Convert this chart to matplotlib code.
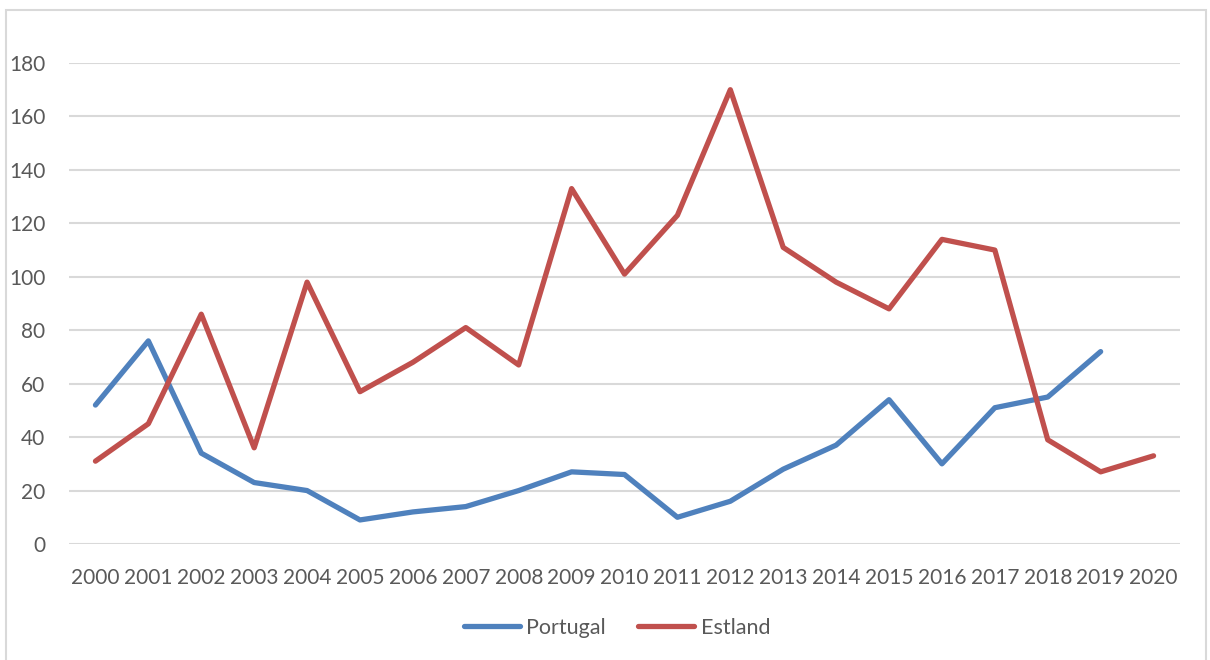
import matplotlib.pyplot as plt
from matplotlib.patches import Rectangle

YEARS = [str(y) for y in range(2000, 2021)]

PORTUGAL = [52, 76, 34, 23, 20, 9, 12, 14, 20, 27, 26, 10, 16, 28, 37, 54, 30, 51, 55, 72]
ESTLAND = [31, 45, 86, 36, 98, 57, 68, 81, 67, 133, 101, 123, 170, 111, 98, 88, 114, 110, 39, 27, 33]

BLUE = "#4F81BD"
RED = "#C0504D"
TEXT = "#595959"
GRID = "#D9D9D9"


def main():
    plt.rcParams["font.family"] = ["Lato", "DejaVu Sans"]

    fig = plt.figure(figsize=(12.1, 6.6), dpi=100)
    W, H = 1210, 660

    # outer chart frame
    fig.patches.append(Rectangle((6 / W, -0.01), (1206 - 6) / W, 1.01 - 10 / H,
                                 transform=fig.transFigure, fill=False,
                                 edgecolor=GRID, linewidth=1.5))

    left, right = 69 / W, 1180 / W
    bottom, top = 1 - 544 / H, 1 - 63 / H
    ax = fig.add_axes([left, bottom, right - left, top - bottom])

    x = list(range(len(YEARS)))
    ax.plot(x[:len(PORTUGAL)], PORTUGAL, color=BLUE, linewidth=3.8,
            solid_joinstyle="round", solid_capstyle="round", label="Portugal")
    ax.plot(x[:len(ESTLAND)], ESTLAND, color=RED, linewidth=3.8,
            solid_joinstyle="round", solid_capstyle="round", label="Estland")

    ax.set_xlim(-0.5, len(YEARS) - 0.5)
    ax.set_ylim(0, 180)
    ax.set_yticks(range(0, 181, 20))
    ax.set_xticks(x)
    ax.set_xticklabels(YEARS)
    ax.yaxis.grid(True, color=GRID, linewidth=1.5)
    ax.set_axisbelow(True)
    for s in ax.spines.values():
        s.set_visible(False)
    ax.tick_params(axis="both", length=0, labelsize=15, labelcolor=TEXT)
    ax.tick_params(axis="x", pad=17)
    ax.tick_params(axis="y", pad=17)

    fig.legend(loc="center", bbox_to_anchor=(617 / W, 1 - 628 / H), ncol=2,
               frameon=False, fontsize=15.5, labelcolor=TEXT,
               handlelength=2.6, columnspacing=1.5, handletextpad=0.3)

    fig.savefig("out.png", dpi=100)
    plt.close(fig)


if __name__ == "__main__":
    main()
